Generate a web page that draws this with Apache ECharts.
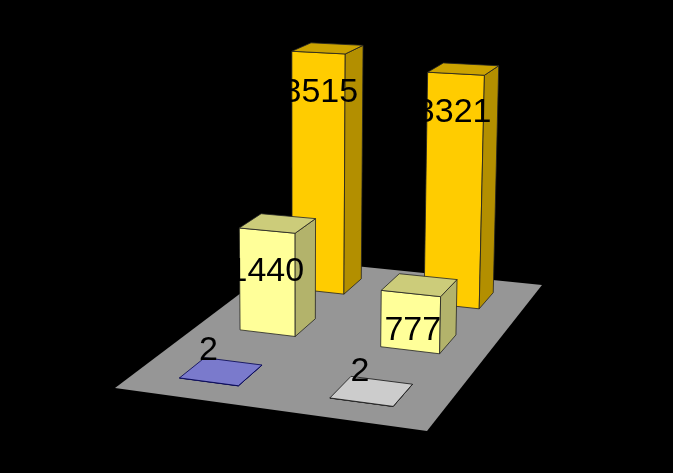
<!DOCTYPE html>
<html>
<head>
<meta charset="utf-8">
<style>html,body{margin:0;padding:0;background:#000}#c{width:673px;height:473px}</style>
<script src="https://cdn.jsdelivr.net/npm/echarts@6/dist/echarts.min.js"></script>
</head>
<body>
<div id="c"></div>
<script>
const categories = ['Col 1', 'Col 2'];
const frontRow = [2, 2];
const middleRow = [1440, 777];
const backRow = [3515, 3321];

// Camera: the floor plane's four corners on screen (front-left, front-right, back-right, back-left)
const floorQuad = [[115, 388], [427, 431], [542, 285], [286, 259]];
const GRID = { left: 100, top: 100, width: 400, height: 305 };
const BAR_FRACTION = 0.4;
const ROW_COUNT = 3;
const TILT_X0 = 300, TILT_DIST = 8000, PERSPECTIVE_GAIN = 1.3e-5;
const U_SKEW_BASE = 0.001, U_SKEW_DEPTH = 0.006;

const rowStyles = [
  { front: '#FFFFFF', top: '#CCCCCC', side: '#B3B3B3', stroke: '#111', dx: [29, 30], dy: [-27, -26] },
  { front: '#FFFF99', top: '#CCCC7A', side: '#B3B36B', stroke: '#222', dx: [27, 31.5], dy: [44, 40] },
  { front: '#FFCC00', top: '#CCA300', side: '#B38F00', stroke: '#222', dx: [28.5, 26], dy: [41, 40] }
];
const frontColStyle = [{ front: '#9999FF', top: '#7A7ACC', side: '#6B6BB3', stroke: '#000050' }, null];

const hom = (function () {
  const [p0, p1, p2, p3] = floorQuad;
  const dx1 = p1[0] - p2[0], dx2 = p3[0] - p2[0], sx = p0[0] - p1[0] + p2[0] - p3[0];
  const dy1 = p1[1] - p2[1], dy2 = p3[1] - p2[1], sy = p0[1] - p1[1] + p2[1] - p3[1];
  const den = dx1 * dy2 - dx2 * dy1;
  const g = (sx * dy2 - dx2 * sy) / den, h = (dx1 * sy - sx * dy1) / den;
  return {
    g, h,
    a: p1[0] - p0[0] + g * p1[0], b: p3[0] - p0[0] + h * p3[0], c: p0[0],
    d: p1[1] - p0[1] + g * p1[1], e: p3[1] - p0[1] + h * p3[1], f: p0[1]
  };
})();
function project(u, v) {
  const w = 1 + hom.g * u + hom.h * v;
  return { x: (hom.a * u + hom.b * v + hom.c) / w, y: (hom.d * u + hom.e * v + hom.f) / w, w };
}
function poly(points, fill, stroke, lw) {
  return { type: 'polygon', shape: { points }, style: { fill, stroke, lineWidth: lw, lineJoin: 'round' } };
}

function barRenderer(rowIndex) {
  return function (params, api) {
    const col = api.value(0), val = api.value(1);
    const base = api.coord([col, 0]);
    const top = api.coord([col, val]);
    const band = api.size([1, 0])[0];
    const vc = (rowIndex + 0.5) / ROW_COUNT;
    const uc = (base[0] - GRID.left) / GRID.width + U_SKEW_BASE + U_SKEW_DEPTH * vc;
    const du = (band * BAR_FRACTION / 2) / GRID.width;
    const dv = BAR_FRACTION / ROW_COUNT / 2;
    const rise = base[1] - top[1];
    const corner = function (u, v) {
      const p = project(u, v);
      const h = rise * (1 + PERSPECTIVE_GAIN * val) / p.w;
      return {
        b: [p.x, p.y],
        t: [p.x + (p.x - TILT_X0) * h / TILT_DIST, p.y - h]
      };
    };
    const fl = corner(uc - du, vc - dv), fr = corner(uc + du, vc - dv);
    const br = corner(uc + du, vc + dv), bl = corner(uc - du, vc + dv);
    const rs = rowStyles[rowIndex];
    const st = (rowIndex === 0 && frontColStyle[col]) || rs;
    const lw = 0.8;
    return {
      type: 'group',
      children: [
        poly([fl.b, fr.b, fr.t, fl.t], st.front, st.stroke, lw),
        poly([fr.b, br.b, br.t, fr.t], st.side, st.stroke, lw),
        poly([fl.t, fr.t, br.t, bl.t], st.top, st.stroke, lw),
        {
          type: 'text', z2: 50,
          style: {
            text: String(val),
            x: fl.t[0] + rs.dx[col], y: fl.t[1] + rs.dy[col],
            fill: '#000', font: '34px "Liberation Sans", Arial, sans-serif',
            align: 'center', verticalAlign: 'middle'
          }
        }
      ]
    };
  };
}

const rows = [frontRow, middleRow, backRow];
const barSeries = rows.map(function (vals, r) {
  return { r, vals };
}).reverse().map(function (o) {
  return {
    type: 'custom',
    coordinateSystem: 'cartesian2d',
    silent: true,
    clip: false,
    encode: { x: 0, y: 1 },
    data: o.vals.map(function (v, i) { return [i, v]; }),
    renderItem: barRenderer(o.r)
  };
});

const floorSeries = {
  type: 'custom',
  coordinateSystem: 'cartesian2d',
  silent: true,
  clip: false,
  encode: { x: 0, y: 1 },
  data: [[0, 0]],
  renderItem: function () {
    const pts = [[0, 0], [1, 0], [1, 1], [0, 1]].map(function (c) {
      const p = project(c[0], c[1]);
      return [p.x, p.y];
    });
    return { type: 'polygon', shape: { points: pts }, style: { fill: '#969696' } };
  }
};

const chart = echarts.init(document.getElementById('c'));
chart.setOption({
  backgroundColor: '#000',
  animation: false,
  grid: GRID,
  xAxis: { type: 'category', data: categories, show: false },
  yAxis: { type: 'value', min: 0, max: 4000, show: false },
  series: [floorSeries].concat(barSeries)
});
</script>
</body>
</html>
